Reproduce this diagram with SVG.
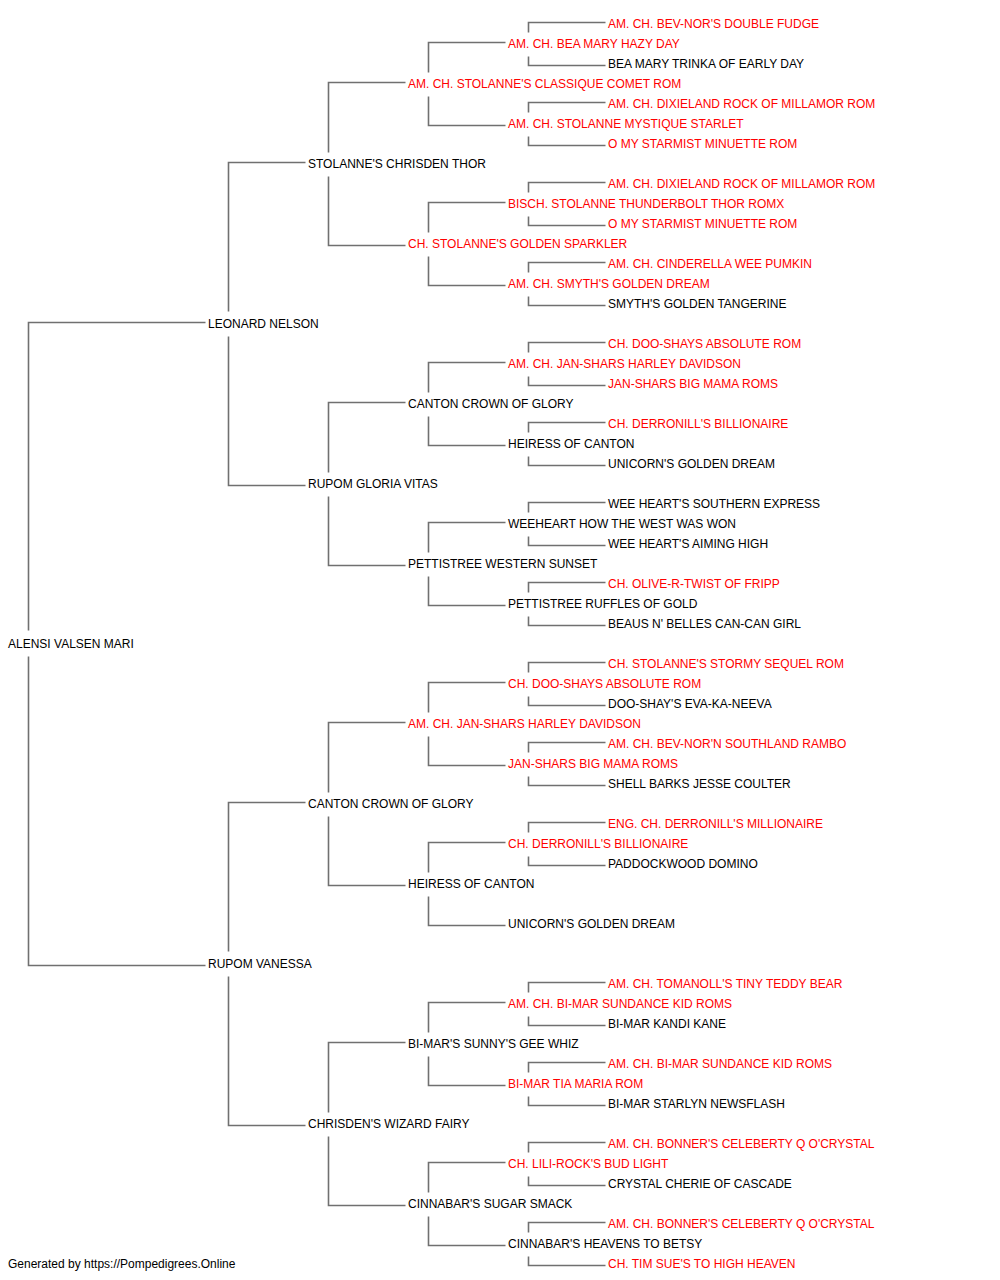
<svg xmlns="http://www.w3.org/2000/svg" width="1000" height="1280" viewBox="0 0 1000 1280">
<style>
text{font-family:"Liberation Sans",Arial,sans-serif;font-size:12px}
.b{fill:#000}
.r{fill:#ff0000}
.ln{fill:none;stroke:#707070;stroke-width:1.6}
</style>
<rect width="1000" height="1280" fill="#fff"/>
<g id="connectors" class="ln" transform="translate(0.5,0.5)">
<path d="M205 322 H28 V630 M28 656 V965 H205"/>
<path d="M305 162 H228 V311 M228 336 V485 H305"/>
<path d="M305 802 H228 V951 M228 976 V1125 H305"/>
<path d="M405 82 H328 V152 M328 176 V245 H405"/>
<path d="M405 402 H328 V472 M328 496 V565 H405"/>
<path d="M405 722 H328 V792 M328 816 V885 H405"/>
<path d="M405 1042 H328 V1112 M328 1136 V1205 H405"/>
<path d="M505 42 H428 V72 M428 96 V125 H505"/>
<path d="M505 202 H428 V232 M428 256 V285 H505"/>
<path d="M505 362 H428 V392 M428 416 V445 H505"/>
<path d="M505 522 H428 V552 M428 576 V605 H505"/>
<path d="M505 682 H428 V712 M428 736 V765 H505"/>
<path d="M505 842 H428 V872 M428 896 V925 H505"/>
<path d="M505 1002 H428 V1032 M428 1056 V1085 H505"/>
<path d="M505 1162 H428 V1192 M428 1216 V1245 H505"/>
<path d="M605 22 H528 V32 M528 56 V65 H605"/>
<path d="M605 102 H528 V112 M528 136 V145 H605"/>
<path d="M605 182 H528 V192 M528 216 V225 H605"/>
<path d="M605 262 H528 V272 M528 296 V305 H605"/>
<path d="M605 342 H528 V352 M528 376 V385 H605"/>
<path d="M605 422 H528 V432 M528 456 V465 H605"/>
<path d="M605 502 H528 V512 M528 536 V545 H605"/>
<path d="M605 582 H528 V592 M528 616 V625 H605"/>
<path d="M605 662 H528 V672 M528 696 V705 H605"/>
<path d="M605 742 H528 V752 M528 776 V785 H605"/>
<path d="M605 822 H528 V832 M528 856 V865 H605"/>
<path d="M605 982 H528 V992 M528 1016 V1025 H605"/>
<path d="M605 1062 H528 V1072 M528 1096 V1105 H605"/>
<path d="M605 1142 H528 V1152 M528 1176 V1185 H605"/>
<path d="M605 1222 H528 V1232 M528 1256 V1265 H605"/>
</g>
<g id="n0"><text class="r" x="608" y="28">AM. CH. BEV-NOR'S DOUBLE FUDGE</text></g>
<g id="n1"><text class="r" x="508" y="48">AM. CH. BEA MARY HAZY DAY</text></g>
<g id="n2"><text class="b" x="608" y="68">BEA MARY TRINKA OF EARLY DAY</text></g>
<g id="n3"><text class="r" x="408" y="88">AM. CH. STOLANNE'S CLASSIQUE COMET ROM</text></g>
<g id="n4"><text class="r" x="608" y="108">AM. CH. DIXIELAND ROCK OF MILLAMOR ROM</text></g>
<g id="n5"><text class="r" x="508" y="128">AM. CH. STOLANNE MYSTIQUE STARLET</text></g>
<g id="n6"><text class="r" x="608" y="148">O MY STARMIST MINUETTE ROM</text></g>
<g id="n7"><text class="b" x="308" y="168">STOLANNE'S CHRISDEN THOR</text></g>
<g id="n8"><text class="r" x="608" y="188">AM. CH. DIXIELAND ROCK OF MILLAMOR ROM</text></g>
<g id="n9"><text class="r" x="508" y="208">BISCH. STOLANNE THUNDERBOLT THOR ROMX</text></g>
<g id="n10"><text class="r" x="608" y="228">O MY STARMIST MINUETTE ROM</text></g>
<g id="n11"><text class="r" x="408" y="248">CH. STOLANNE'S GOLDEN SPARKLER</text></g>
<g id="n12"><text class="r" x="608" y="268">AM. CH. CINDERELLA WEE PUMKIN</text></g>
<g id="n13"><text class="r" x="508" y="288">AM. CH. SMYTH'S GOLDEN DREAM</text></g>
<g id="n14"><text class="b" x="608" y="308">SMYTH'S GOLDEN TANGERINE</text></g>
<g id="n15"><text class="b" x="208" y="328">LEONARD NELSON</text></g>
<g id="n16"><text class="r" x="608" y="348">CH. DOO-SHAYS ABSOLUTE ROM</text></g>
<g id="n17"><text class="r" x="508" y="368">AM. CH. JAN-SHARS HARLEY DAVIDSON</text></g>
<g id="n18"><text class="r" x="608" y="388">JAN-SHARS BIG MAMA ROMS</text></g>
<g id="n19"><text class="b" x="408" y="408">CANTON CROWN OF GLORY</text></g>
<g id="n20"><text class="r" x="608" y="428">CH. DERRONILL'S BILLIONAIRE</text></g>
<g id="n21"><text class="b" x="508" y="448">HEIRESS OF CANTON</text></g>
<g id="n22"><text class="b" x="608" y="468">UNICORN'S GOLDEN DREAM</text></g>
<g id="n23"><text class="b" x="308" y="488">RUPOM GLORIA VITAS</text></g>
<g id="n24"><text class="b" x="608" y="508">WEE HEART'S SOUTHERN EXPRESS</text></g>
<g id="n25"><text class="b" x="508" y="528">WEEHEART HOW THE WEST WAS WON</text></g>
<g id="n26"><text class="b" x="608" y="548">WEE HEART'S AIMING HIGH</text></g>
<g id="n27"><text class="b" x="408" y="568">PETTISTREE WESTERN SUNSET</text></g>
<g id="n28"><text class="r" x="608" y="588">CH. OLIVE-R-TWIST OF FRIPP</text></g>
<g id="n29"><text class="b" x="508" y="608">PETTISTREE RUFFLES OF GOLD</text></g>
<g id="n30"><text class="b" x="608" y="628">BEAUS N' BELLES CAN-CAN GIRL</text></g>
<g id="n31"><text class="b" x="8" y="648">ALENSI VALSEN MARI</text></g>
<g id="n32"><text class="r" x="608" y="668">CH. STOLANNE'S STORMY SEQUEL ROM</text></g>
<g id="n33"><text class="r" x="508" y="688">CH. DOO-SHAYS ABSOLUTE ROM</text></g>
<g id="n34"><text class="b" x="608" y="708">DOO-SHAY'S EVA-KA-NEEVA</text></g>
<g id="n35"><text class="r" x="408" y="728">AM. CH. JAN-SHARS HARLEY DAVIDSON</text></g>
<g id="n36"><text class="r" x="608" y="748">AM. CH. BEV-NOR'N SOUTHLAND RAMBO</text></g>
<g id="n37"><text class="r" x="508" y="768">JAN-SHARS BIG MAMA ROMS</text></g>
<g id="n38"><text class="b" x="608" y="788">SHELL BARKS JESSE COULTER</text></g>
<g id="n39"><text class="b" x="308" y="808">CANTON CROWN OF GLORY</text></g>
<g id="n40"><text class="r" x="608" y="828">ENG. CH. DERRONILL'S MILLIONAIRE</text></g>
<g id="n41"><text class="r" x="508" y="848">CH. DERRONILL'S BILLIONAIRE</text></g>
<g id="n42"><text class="b" x="608" y="868">PADDOCKWOOD DOMINO</text></g>
<g id="n43"><text class="b" x="408" y="888">HEIRESS OF CANTON</text></g>
<g id="n45"><text class="b" x="508" y="928">UNICORN'S GOLDEN DREAM</text></g>
<g id="n47"><text class="b" x="208" y="968">RUPOM VANESSA</text></g>
<g id="n48"><text class="r" x="608" y="988">AM. CH. TOMANOLL'S TINY TEDDY BEAR</text></g>
<g id="n49"><text class="r" x="508" y="1008">AM. CH. BI-MAR SUNDANCE KID ROMS</text></g>
<g id="n50"><text class="b" x="608" y="1028">BI-MAR KANDI KANE</text></g>
<g id="n51"><text class="b" x="408" y="1048">BI-MAR'S SUNNY'S GEE WHIZ</text></g>
<g id="n52"><text class="r" x="608" y="1068">AM. CH. BI-MAR SUNDANCE KID ROMS</text></g>
<g id="n53"><text class="r" x="508" y="1088">BI-MAR TIA MARIA ROM</text></g>
<g id="n54"><text class="b" x="608" y="1108">BI-MAR STARLYN NEWSFLASH</text></g>
<g id="n55"><text class="b" x="308" y="1128">CHRISDEN'S WIZARD FAIRY</text></g>
<g id="n56"><text class="r" x="608" y="1148">AM. CH. BONNER'S CELEBERTY Q O'CRYSTAL</text></g>
<g id="n57"><text class="r" x="508" y="1168">CH. LILI-ROCK'S BUD LIGHT</text></g>
<g id="n58"><text class="b" x="608" y="1188">CRYSTAL CHERIE OF CASCADE</text></g>
<g id="n59"><text class="b" x="408" y="1208">CINNABAR'S SUGAR SMACK</text></g>
<g id="n60"><text class="r" x="608" y="1228">AM. CH. BONNER'S CELEBERTY Q O'CRYSTAL</text></g>
<g id="n61"><text class="b" x="508" y="1248">CINNABAR'S HEAVENS TO BETSY</text></g>
<g id="n62"><text class="r" x="608" y="1268">CH. TIM SUE'S TO HIGH HEAVEN</text></g>
<g id="credit"><text class="b" x="8" y="1268">Generated by https://Pompedigrees.Online</text></g>
</svg>
